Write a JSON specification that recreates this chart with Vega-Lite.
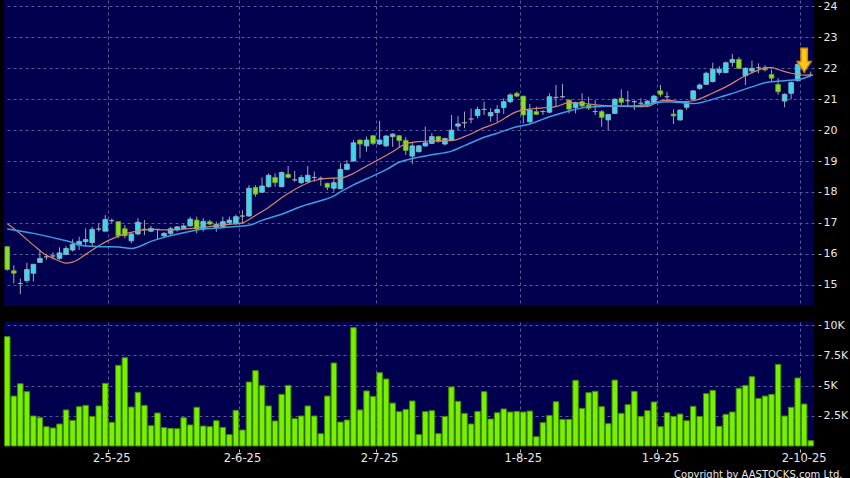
{
  "$schema": "https://vega.github.io/schema/vega-lite/v6.json",
  "background": "#000000",
  "padding": {"left": 4, "top": 0, "right": 4, "bottom": 3},
  "spacing": 13,
  "config": {
    "view": {"fill": "#00004f", "stroke": null},
    "axis": {"labelFont": "DejaVu Sans", "labelColor": "#e8e8e8", "titleFont": "DejaVu Sans", "gridColor": "#5a5a9a", "gridDash": [3, 3], "gridWidth": 1, "tickColor": "#c0c0c0", "domain": false, "labelOverlap": false},
    "axisY": {"labelOverlap": false},
    "axisQuantitative": {"labelOverlap": false},
    "axisBand": {"labelOverlap": false}
  },
  "datasets": {
    "k": [
      {"d":"2025-04-07","o":16.23,"h":16.25,"l":15.45,"c":15.49,"v":9040},
      {"d":"2025-04-08","o":15.45,"h":15.63,"l":15.04,"c":15.37,"v":4130},
      {"d":"2025-04-09","o":15.04,"h":15.2,"l":14.7,"c":15.04,"v":5150},
      {"d":"2025-04-10","o":15.13,"h":15.71,"l":15.06,"c":15.49,"v":4490},
      {"d":"2025-04-11","o":15.37,"h":15.66,"l":15.1,"c":15.66,"v":2480},
      {"d":"2025-04-14","o":15.72,"h":16.12,"l":15.72,"c":15.85,"v":2340},
      {"d":"2025-04-15","o":15.9,"h":16.0,"l":15.8,"c":15.9,"v":1600},
      {"d":"2025-04-16","o":15.93,"h":16.05,"l":15.82,"c":15.93,"v":1490},
      {"d":"2025-04-17","o":15.85,"h":16.21,"l":15.8,"c":16.03,"v":1820},
      {"d":"2025-04-22","o":15.98,"h":16.25,"l":15.95,"c":16.17,"v":2980},
      {"d":"2025-04-23","o":16.12,"h":16.47,"l":16.07,"c":16.3,"v":2120},
      {"d":"2025-04-24","o":16.28,"h":16.55,"l":16.12,"c":16.4,"v":3250},
      {"d":"2025-04-25","o":16.39,"h":16.82,"l":16.23,"c":16.46,"v":3360},
      {"d":"2025-04-28","o":16.36,"h":16.87,"l":16.23,"c":16.79,"v":2450},
      {"d":"2025-04-29","o":16.8,"h":16.98,"l":16.72,"c":16.8,"v":3310},
      {"d":"2025-04-30","o":16.73,"h":17.25,"l":16.72,"c":17.11,"v":5180},
      {"d":"2025-05-02","o":17.07,"h":17.14,"l":17.0,"c":17.07,"v":1960},
      {"d":"2025-05-06","o":17.04,"h":17.04,"l":16.5,"c":16.58,"v":6670},
      {"d":"2025-05-07","o":16.81,"h":16.93,"l":16.5,"c":16.58,"v":7300},
      {"d":"2025-05-08","o":16.42,"h":16.7,"l":16.34,"c":16.64,"v":3220},
      {"d":"2025-05-09","o":16.64,"h":17.15,"l":16.6,"c":17.02,"v":4440},
      {"d":"2025-05-12","o":16.79,"h":17.09,"l":16.6,"c":16.79,"v":3360},
      {"d":"2025-05-13","o":16.73,"h":16.9,"l":16.7,"c":16.82,"v":1680},
      {"d":"2025-05-14","o":16.79,"h":16.79,"l":16.47,"c":16.79,"v":2730},
      {"d":"2025-05-15","o":16.58,"h":16.7,"l":16.5,"c":16.66,"v":1520},
      {"d":"2025-05-16","o":16.66,"h":16.87,"l":16.6,"c":16.81,"v":1460},
      {"d":"2025-05-19","o":16.77,"h":16.9,"l":16.72,"c":16.87,"v":1430},
      {"d":"2025-05-20","o":16.82,"h":16.95,"l":16.8,"c":16.9,"v":2340},
      {"d":"2025-05-21","o":16.9,"h":17.2,"l":16.88,"c":17.12,"v":1740},
      {"d":"2025-05-22","o":17.09,"h":17.2,"l":16.66,"c":16.8,"v":3200},
      {"d":"2025-05-23","o":16.8,"h":17.15,"l":16.72,"c":17.05,"v":1650},
      {"d":"2025-05-26","o":17.04,"h":17.1,"l":16.93,"c":16.96,"v":1600},
      {"d":"2025-05-27","o":16.85,"h":17.04,"l":16.71,"c":16.95,"v":2090},
      {"d":"2025-05-28","o":16.88,"h":17.2,"l":16.85,"c":17.04,"v":1540},
      {"d":"2025-05-29","o":17.0,"h":17.2,"l":16.96,"c":17.09,"v":940},
      {"d":"2025-05-30","o":16.98,"h":17.27,"l":16.93,"c":17.2,"v":2950},
      {"d":"2025-06-02","o":17.22,"h":17.41,"l":16.98,"c":17.22,"v":1320},
      {"d":"2025-06-03","o":17.22,"h":18.22,"l":17.2,"c":18.12,"v":5290},
      {"d":"2025-06-04","o":18.15,"h":18.22,"l":17.85,"c":17.93,"v":6230},
      {"d":"2025-06-05","o":17.99,"h":18.47,"l":17.99,"c":18.19,"v":5010},
      {"d":"2025-06-06","o":18.17,"h":18.6,"l":18.14,"c":18.54,"v":3310},
      {"d":"2025-06-09","o":18.47,"h":18.6,"l":18.17,"c":18.3,"v":2070},
      {"d":"2025-06-10","o":18.17,"h":18.66,"l":18.15,"c":18.63,"v":4270},
      {"d":"2025-06-11","o":18.57,"h":18.84,"l":18.44,"c":18.47,"v":5010},
      {"d":"2025-06-12","o":18.39,"h":18.68,"l":18.33,"c":18.39,"v":2260},
      {"d":"2025-06-13","o":18.3,"h":18.55,"l":18.25,"c":18.47,"v":2480},
      {"d":"2025-06-16","o":18.33,"h":18.84,"l":18.3,"c":18.54,"v":3310},
      {"d":"2025-06-17","o":18.47,"h":18.66,"l":18.33,"c":18.47,"v":2480},
      {"d":"2025-06-18","o":18.44,"h":18.5,"l":18.2,"c":18.44,"v":1020},
      {"d":"2025-06-19","o":18.28,"h":18.3,"l":18.06,"c":18.15,"v":4130},
      {"d":"2025-06-20","o":18.12,"h":18.46,"l":18.01,"c":18.3,"v":6860},
      {"d":"2025-06-23","o":18.1,"h":18.93,"l":18.1,"c":18.73,"v":1980},
      {"d":"2025-06-24","o":18.73,"h":19.03,"l":18.71,"c":18.9,"v":2150},
      {"d":"2025-06-25","o":19.0,"h":19.68,"l":18.98,"c":19.59,"v":9780},
      {"d":"2025-06-26","o":19.68,"h":19.7,"l":19.09,"c":19.55,"v":2980},
      {"d":"2025-06-27","o":19.49,"h":19.79,"l":19.3,"c":19.68,"v":4550},
      {"d":"2025-06-30","o":19.82,"h":19.84,"l":19.52,"c":19.57,"v":4100},
      {"d":"2025-07-02","o":19.55,"h":20.3,"l":19.52,"c":19.68,"v":6060},
      {"d":"2025-07-03","o":19.49,"h":19.84,"l":19.46,"c":19.81,"v":5540},
      {"d":"2025-07-04","o":19.79,"h":19.9,"l":19.46,"c":19.87,"v":3550},
      {"d":"2025-07-07","o":19.82,"h":19.84,"l":19.44,"c":19.66,"v":2840},
      {"d":"2025-07-08","o":19.67,"h":19.77,"l":19.2,"c":19.34,"v":3030},
      {"d":"2025-07-09","o":19.16,"h":19.59,"l":18.9,"c":19.49,"v":3720},
      {"d":"2025-07-10","o":19.3,"h":19.52,"l":19.28,"c":19.49,"v":940},
      {"d":"2025-07-11","o":19.49,"h":20.11,"l":19.46,"c":19.59,"v":2840},
      {"d":"2025-07-14","o":19.57,"h":19.9,"l":19.55,"c":19.79,"v":2920},
      {"d":"2025-07-15","o":19.79,"h":19.82,"l":19.6,"c":19.63,"v":1020},
      {"d":"2025-07-16","o":19.55,"h":19.76,"l":19.5,"c":19.73,"v":2450},
      {"d":"2025-07-17","o":19.68,"h":20.49,"l":19.68,"c":20.0,"v":4880},
      {"d":"2025-07-18","o":20.13,"h":20.45,"l":20.0,"c":20.2,"v":3690},
      {"d":"2025-07-21","o":20.24,"h":20.6,"l":20.06,"c":20.24,"v":2700},
      {"d":"2025-07-22","o":20.36,"h":20.7,"l":20.22,"c":20.36,"v":1820},
      {"d":"2025-07-23","o":20.47,"h":20.76,"l":20.38,"c":20.67,"v":2860},
      {"d":"2025-07-24","o":20.67,"h":20.92,"l":20.49,"c":20.67,"v":4490},
      {"d":"2025-07-25","o":20.46,"h":20.71,"l":20.27,"c":20.57,"v":2230},
      {"d":"2025-07-28","o":20.57,"h":20.81,"l":20.27,"c":20.67,"v":2750},
      {"d":"2025-07-29","o":20.73,"h":21.03,"l":20.52,"c":20.92,"v":3060},
      {"d":"2025-07-30","o":20.92,"h":21.19,"l":20.87,"c":21.14,"v":2810},
      {"d":"2025-07-31","o":21.19,"h":21.24,"l":21.06,"c":21.1,"v":2860},
      {"d":"2025-08-01","o":21.1,"h":21.1,"l":20.22,"c":20.49,"v":2810},
      {"d":"2025-08-04","o":20.27,"h":20.85,"l":20.22,"c":20.65,"v":2890},
      {"d":"2025-08-05","o":20.6,"h":20.76,"l":20.49,"c":20.51,"v":770},
      {"d":"2025-08-06","o":20.6,"h":20.65,"l":20.49,"c":20.6,"v":1930},
      {"d":"2025-08-07","o":20.58,"h":21.19,"l":20.54,"c":21.08,"v":2530},
      {"d":"2025-08-08","o":21.06,"h":21.46,"l":20.76,"c":21.06,"v":3660},
      {"d":"2025-08-11","o":21.08,"h":21.49,"l":21.03,"c":21.08,"v":2200},
      {"d":"2025-08-12","o":20.97,"h":21.0,"l":20.54,"c":20.68,"v":2200},
      {"d":"2025-08-13","o":20.73,"h":20.92,"l":20.54,"c":20.89,"v":5430},
      {"d":"2025-08-14","o":20.92,"h":21.19,"l":20.71,"c":20.78,"v":3110},
      {"d":"2025-08-15","o":20.81,"h":21.08,"l":20.65,"c":20.71,"v":4410},
      {"d":"2025-08-18","o":20.6,"h":20.97,"l":20.49,"c":20.6,"v":4520},
      {"d":"2025-08-19","o":20.6,"h":20.65,"l":20.11,"c":20.41,"v":3250},
      {"d":"2025-08-20","o":20.33,"h":20.51,"l":20.0,"c":20.51,"v":1850},
      {"d":"2025-08-21","o":20.54,"h":21.03,"l":20.52,"c":21.0,"v":5450},
      {"d":"2025-08-22","o":21.03,"h":21.32,"l":20.81,"c":20.9,"v":2700},
      {"d":"2025-08-25","o":20.95,"h":21.27,"l":20.78,"c":20.95,"v":3420},
      {"d":"2025-08-26","o":20.92,"h":20.97,"l":20.65,"c":20.92,"v":4520},
      {"d":"2025-08-27","o":20.87,"h":21.03,"l":20.74,"c":20.87,"v":2450},
      {"d":"2025-08-28","o":20.81,"h":20.97,"l":20.78,"c":20.94,"v":2920},
      {"d":"2025-08-29","o":20.89,"h":21.14,"l":20.85,"c":21.1,"v":3640},
      {"d":"2025-09-01","o":21.27,"h":21.46,"l":21.08,"c":21.16,"v":1600},
      {"d":"2025-09-02","o":21.08,"h":21.24,"l":20.89,"c":21.08,"v":2750},
      {"d":"2025-09-03","o":20.52,"h":20.67,"l":20.2,"c":20.46,"v":2450},
      {"d":"2025-09-04","o":20.33,"h":20.67,"l":20.3,"c":20.65,"v":2640},
      {"d":"2025-09-05","o":20.74,"h":20.92,"l":20.65,"c":20.89,"v":2090},
      {"d":"2025-09-08","o":21.0,"h":21.3,"l":20.97,"c":21.27,"v":3280},
      {"d":"2025-09-09","o":21.35,"h":21.51,"l":21.3,"c":21.46,"v":2450},
      {"d":"2025-09-10","o":21.48,"h":21.89,"l":21.46,"c":21.84,"v":4330},
      {"d":"2025-09-11","o":21.57,"h":22.18,"l":21.54,"c":21.97,"v":4600},
      {"d":"2025-09-12","o":21.86,"h":22.07,"l":21.78,"c":21.97,"v":1630},
      {"d":"2025-09-15","o":21.86,"h":22.22,"l":21.84,"c":22.18,"v":2620},
      {"d":"2025-09-16","o":22.19,"h":22.46,"l":22.05,"c":22.29,"v":2810},
      {"d":"2025-09-17","o":22.29,"h":22.36,"l":21.97,"c":22.0,"v":4770},
      {"d":"2025-09-18","o":21.76,"h":22.03,"l":21.46,"c":22.0,"v":5010},
      {"d":"2025-09-19","o":21.91,"h":22.25,"l":21.84,"c":22.0,"v":5730},
      {"d":"2025-09-22","o":22.02,"h":22.16,"l":21.84,"c":22.02,"v":3940},
      {"d":"2025-09-23","o":22.0,"h":22.1,"l":21.9,"c":21.95,"v":4130},
      {"d":"2025-09-24","o":21.8,"h":21.95,"l":21.57,"c":21.68,"v":4270},
      {"d":"2025-09-25","o":21.48,"h":21.68,"l":21.14,"c":21.24,"v":6750},
      {"d":"2025-09-26","o":20.94,"h":21.19,"l":20.74,"c":21.16,"v":2480},
      {"d":"2025-09-29","o":21.19,"h":21.57,"l":21.0,"c":21.54,"v":3200},
      {"d":"2025-09-30","o":21.6,"h":22.16,"l":21.57,"c":22.13,"v":5620},
      {"d":"2025-10-02","o":22.2,"h":22.3,"l":21.85,"c":22.0,"v":3470},
      {"d":"2025-10-03","o":21.78,"h":21.89,"l":21.73,"c":21.78,"v":440}
    ],
    "ma10": [
      {"d":"2025-04-07","v":16.97},{"d":"2025-04-08","v":16.82},{"d":"2025-04-11","v":16.28},
      {"d":"2025-04-15","v":15.95},{"d":"2025-04-16","v":15.86},{"d":"2025-04-22","v":15.70},
      {"d":"2025-04-23","v":15.73},{"d":"2025-04-25","v":15.98},{"d":"2025-04-29","v":16.26},
      {"d":"2025-05-06","v":16.57},{"d":"2025-05-09","v":16.74},{"d":"2025-05-13","v":16.79},
      {"d":"2025-05-15","v":16.77},{"d":"2025-05-20","v":16.80},{"d":"2025-05-23","v":16.86},
      {"d":"2025-05-27","v":16.90},{"d":"2025-05-29","v":16.95},{"d":"2025-06-02","v":17.00},
      {"d":"2025-06-04","v":17.24},{"d":"2025-06-06","v":17.50},{"d":"2025-06-10","v":17.81},
      {"d":"2025-06-13","v":18.19},{"d":"2025-06-17","v":18.37},{"d":"2025-06-19","v":18.44},
      {"d":"2025-06-23","v":18.45},{"d":"2025-06-25","v":18.60},{"d":"2025-06-27","v":18.84},
      {"d":"2025-07-03","v":19.18},{"d":"2025-07-04","v":19.30},{"d":"2025-07-08","v":19.56},
      {"d":"2025-07-10","v":19.63},{"d":"2025-07-14","v":19.65},{"d":"2025-07-17","v":19.66},
      {"d":"2025-07-21","v":19.79},{"d":"2025-07-24","v":20.08},{"d":"2025-07-28","v":20.24},
      {"d":"2025-07-31","v":20.60},{"d":"2025-08-01","v":20.65},{"d":"2025-08-06","v":20.72},
      {"d":"2025-08-08","v":20.76},{"d":"2025-08-12","v":20.89},{"d":"2025-08-14","v":20.87},
      {"d":"2025-08-19","v":20.80},{"d":"2025-08-26","v":20.76},{"d":"2025-08-28","v":20.77},
      {"d":"2025-09-01","v":20.95},{"d":"2025-09-02","v":20.97},{"d":"2025-09-04","v":20.92},
      {"d":"2025-09-08","v":20.95},{"d":"2025-09-11","v":21.20},{"d":"2025-09-15","v":21.40},
      {"d":"2025-09-18","v":21.76},{"d":"2025-09-22","v":21.94},{"d":"2025-09-23","v":22.02},
      {"d":"2025-09-24","v":22.02},{"d":"2025-09-25","v":21.96},{"d":"2025-09-29","v":21.84},
      {"d":"2025-10-02","v":21.78},{"d":"2025-10-03","v":21.78}
    ],
    "ma20": [
      {"d":"2025-04-07","v":16.80},{"d":"2025-04-11","v":16.66},{"d":"2025-04-22","v":16.42},
      {"d":"2025-04-25","v":16.25},{"d":"2025-04-29","v":16.23},{"d":"2025-05-06","v":16.22},
      {"d":"2025-05-08","v":16.17},{"d":"2025-05-13","v":16.40},{"d":"2025-05-15","v":16.53},
      {"d":"2025-05-20","v":16.68},{"d":"2025-05-23","v":16.80},{"d":"2025-05-27","v":16.83},
      {"d":"2025-05-30","v":16.88},{"d":"2025-06-03","v":16.92},{"d":"2025-06-05","v":17.08},
      {"d":"2025-06-10","v":17.28},{"d":"2025-06-13","v":17.53},{"d":"2025-06-17","v":17.66},
      {"d":"2025-06-20","v":17.87},{"d":"2025-06-23","v":18.00},{"d":"2025-06-25","v":18.23},
      {"d":"2025-06-30","v":18.52},{"d":"2025-07-03","v":18.72},{"d":"2025-07-07","v":18.96},
      {"d":"2025-07-09","v":19.08},{"d":"2025-07-14","v":19.20},{"d":"2025-07-17","v":19.32},
      {"d":"2025-07-21","v":19.50},{"d":"2025-07-24","v":19.77},{"d":"2025-07-28","v":19.90},
      {"d":"2025-07-31","v":20.11},{"d":"2025-08-04","v":20.20},{"d":"2025-08-07","v":20.43},
      {"d":"2025-08-12","v":20.62},{"d":"2025-08-14","v":20.72},{"d":"2025-08-18","v":20.76},
      {"d":"2025-08-20","v":20.78},{"d":"2025-08-26","v":20.78},{"d":"2025-09-02","v":20.92},
      {"d":"2025-09-08","v":20.86},{"d":"2025-09-12","v":21.06},{"d":"2025-09-16","v":21.19},
      {"d":"2025-09-19","v":21.40},{"d":"2025-09-23","v":21.53},{"d":"2025-09-26","v":21.60},
      {"d":"2025-09-30","v":21.63},{"d":"2025-10-03","v":21.76}
    ],
    "arrow": [{"d":"2025-10-02","p":22.27}]
  },
  "vconcat": [
    {
      "width": 810,
      "height": 306,
      "encoding": {
        "x": {
          "field": "d", "type": "ordinal",
          "scale": {"type": "band", "paddingInner": 0, "paddingOuter": 0},
          "axis": {"orient": "bottom", "title": null, "labels": false, "ticks": false, "domain": false, "grid": true, "bandPosition": 0,
                   "values": ["2025-05-02","2025-06-02","2025-07-02","2025-08-01","2025-09-01","2025-10-02"]}
        },
        "y": {"field": "l", "type": "quantitative",
              "scale": {"domain": [14.31, 24.21], "nice": false, "zero": false},
              "axis": {"orient": "right", "title": null, "values": [15,16,17,18,19,20,21,22,23,24], "grid": true,
                       "labelOverlap": false, "labelBound": false, "tickCount": 10,
                       "offset": 4, "tickSize": 3, "labelPadding": 2, "labelFontSize": 11}}
      },
      "layer": [
        {
          "data": {"name": "k"},
          "mark": {"type": "rule", "color": "#a4a6b8", "strokeWidth": 1},
          "encoding": {
            "y2": {"field": "h"}
          }
        },
        {
          "data": {"name": "k"},
          "mark": {"type": "bar", "width": {"band": 0.72}, "strokeWidth": 0.8},
          "encoding": {
            "y": {"field": "o", "type": "quantitative"},
            "y2": {"field": "c"},
            "fill": {"condition": [{"test": "datum.c > datum.o", "value": "#3ad8ea"}, {"test": "datum.c < datum.o", "value": "#8ade26"}], "value": "#a8a8b8"},
            "stroke": {"condition": [{"test": "datum.c > datum.o", "value": "#9ab4c4"}, {"test": "datum.c < datum.o", "value": "#6aa61e"}], "value": "#a8a8b8"}
          }
        },
        {
          "data": {"name": "ma10"},
          "mark": {"type": "line", "color": "#d4866a", "strokeWidth": 1.2, "interpolate": "monotone"},
          "encoding": {"y": {"field": "v", "type": "quantitative"}}
        },
        {
          "data": {"name": "ma20"},
          "mark": {"type": "line", "color": "#3c9fe4", "strokeWidth": 1.5, "interpolate": "monotone"},
          "encoding": {"y": {"field": "v", "type": "quantitative"}}
        },
        {
          "data": {"name": "arrow"},
          "mark": {"type": "point", "filled": true, "size": 560, "opacity": 1,
                   "shape": "M-0.27,-1 L0.27,-1 L0.27,0.14 L0.58,0.14 L0,1 L-0.58,0.14 L-0.27,0.14 Z",
                   "fill": "#f7c81e", "stroke": "#d98a00", "strokeWidth": 1.5},
          "encoding": {"y": {"field": "p", "type": "quantitative"}}
        }
      ]
    },
    {
      "width": 810,
      "height": 124,
      "data": {"name": "k"},
      "mark": {"type": "bar", "width": {"band": 0.84}, "fill": "#78f000", "stroke": "#3f8a00", "strokeWidth": 1},
      "encoding": {
        "x": {"field": "d", "type": "ordinal",
              "scale": {"type": "band", "paddingInner": 0, "paddingOuter": 0},
              "axis": {"orient": "bottom", "grid": true, "domain": false, "offset": 3, "tickSize": 3, "labelPadding": 0,
                       "labelFontSize": 11.5, "labelAngle": 0, "labelAlign": "center", "labelBaseline": "top",
                       "labelOverlap": false, "labelBound": false, "bandPosition": 0,
                       "values": ["2025-05-02","2025-06-02","2025-07-02","2025-08-01","2025-09-01","2025-10-02"],
                       "labelExpr": "parseInt(slice(datum.value, 8, 10)) + '-' + parseInt(slice(datum.value, 5, 7)) + '-' + slice(datum.value, 2, 4)",
                       "title": "Copyright by AASTOCKS.com Ltd.", "titleColor": "#e8e8e8", "titleFontSize": 10,
                       "titleFontWeight": "normal", "titleAnchor": "end", "titleAlign": "right",
                       "titleX": 838, "titleY": 28, "titleBaseline": "alphabetic"}},
        "y": {"field": "v", "type": "quantitative",
              "scale": {"domain": [0, 10250], "nice": false},
              "axis": {"orient": "right", "title": null, "values": [2500, 5000, 7500, 10000], "grid": true,
                       "labelOverlap": false, "labelBound": false,
                       "offset": 4, "tickSize": 3, "labelPadding": 2, "labelFontSize": 11,
                       "labelExpr": "datum.value / 1000 + 'K'"}}
      }
    }
  ]
}
